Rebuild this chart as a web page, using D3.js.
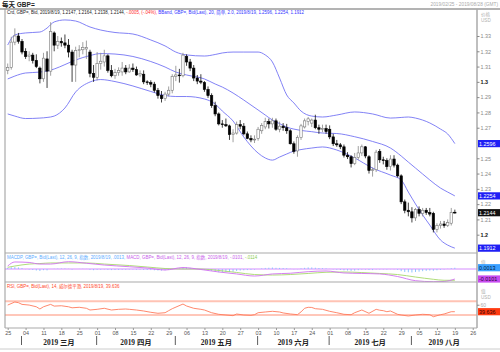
<!DOCTYPE html>
<html>
<head>
<meta charset="utf-8">
<script src="https://cdn.jsdelivr.net/npm/d3@7/dist/d3.min.js"></script>
<style>
  body { margin: 0; background: #fff; }
  svg { display: block; font-family: "Liberation Sans", Arial, "Noto Sans CJK SC", sans-serif; }
</style>
</head>
<body>
<script>

// chart size
const width = 500, height = 352;

// trading day range shown on the x axis
const firstDay = "2019-02-25", lastDay = "2019-08-27";
const monthNames = ["三月", "四月", "五月", "六月", "七月", "八月"];

// daily candles, one value per trading day from 2019-02-25 to 2019-08-19
const openP = [
  1.3075,1.3095,1.3260,1.3300,1.3265, 1.3200,1.3165,1.3175,1.3140,1.3090,
  1.3020,1.3150,1.3070,1.3320,1.3240, 1.3265,1.3255,1.3240,1.3195,1.3110,
  1.3205,1.3210,1.3215,1.3195,1.3055, 1.3030,1.3120,1.3130,1.3170,1.3075,
  1.3040,1.3060,1.3065,1.3090,1.3065, 1.3090,1.3080,1.3045,1.3050,1.3000,
  1.2995,1.2985,1.2945,1.2910,1.2890, 1.2920,1.2945,1.3035,1.3045,1.3040,
  1.3165,1.3130,1.3090,1.3025,1.3005, 1.2995,1.2950,1.2910,1.2845,1.2790,
  1.2725,1.2720,1.2712,1.2655,1.2665, 1.2720,1.2710,1.2660,1.2630,1.2620,
  1.2630,1.2680,1.2705,1.2740,1.2725, 1.2745,1.2690,1.2710,1.2700,1.2680,
  1.2595,1.2548,1.2636,1.2705,1.2740, 1.2730,1.2750,1.2700,1.2690,1.2695,
  1.2690,1.2640,1.2595,1.2588,1.2575, 1.2520,1.2510,1.2465,1.2505,1.2535,
  1.2575,1.2510,1.2420,1.2425,1.2545, 1.2490,1.2485,1.2445,1.2495,1.2455,
  1.2385,1.2215,1.2160,1.2150,1.2110, 1.2165,1.2140,1.2160,1.2145,1.2140,
  1.2035,1.2060,1.2070,1.2060,1.2075, 1.2147
];
const highP = [
  1.3120,1.3295,1.3350,1.3320,1.3280, 1.3220,1.3200,1.3190,1.3180,1.3100,
  1.3190,1.3200,1.3390,1.3330,1.3300, 1.3290,1.3310,1.3280,1.3210,1.3230,
  1.3240,1.3260,1.3270,1.3210,1.3110, 1.3195,1.3190,1.3210,1.3180,1.3110,
  1.3085,1.3095,1.3130,1.3110,1.3115, 1.3120,1.3100,1.3075,1.3075,1.3010,
  1.3010,1.3000,1.2960,1.2940,1.2935, 1.2970,1.3050,1.3105,1.3085,1.3190,
  1.3180,1.3150,1.3110,1.3045,1.3050, 1.3005,1.2970,1.2925,1.2870,1.2800,
  1.2750,1.2760,1.2720,1.2690,1.2740, 1.2750,1.2730,1.2675,1.2650,1.2650,
  1.2705,1.2730,1.2765,1.2760,1.2765, 1.2760,1.2740,1.2730,1.2725,1.2690,
  1.2610,1.2650,1.2725,1.2760,1.2770, 1.2760,1.2785,1.2720,1.2720,1.2720,
  1.2715,1.2660,1.2620,1.2600,1.2590, 1.2540,1.2520,1.2535,1.2580,1.2590,
  1.2580,1.2520,1.2440,1.2555,1.2560, 1.2510,1.2500,1.2520,1.2520,1.2465,
  1.2395,1.2230,1.2210,1.2180,1.2175, 1.2185,1.2175,1.2175,1.2175,1.2150,
  1.2075,1.2090,1.2090,1.2100,1.2175, 1.2164
];
const lowP = [
  1.3050,1.3080,1.3240,1.3250,1.3180, 1.3150,1.3135,1.3120,1.3090,1.2990,
  1.3000,1.2960,1.3040,1.3200,1.3215, 1.3230,1.3220,1.3160,1.3000,1.3000,
  1.3160,1.3180,1.3150,1.3030,1.3000, 1.3010,1.3080,1.3100,1.3060,1.3030,
  1.3020,1.3040,1.3040,1.3050,1.3060, 1.3065,1.3040,1.3030,1.2985,1.2980,
  1.2965,1.2930,1.2890,1.2865,1.2875, 1.2905,1.2925,1.3005,1.2995,1.3030,
  1.3105,1.3070,1.3005,1.2985,1.2985, 1.2935,1.2895,1.2830,1.2775,1.2715,
  1.2700,1.2705,1.2620,1.2605,1.2655, 1.2690,1.2650,1.2625,1.2605,1.2600,
  1.2615,1.2660,1.2690,1.2695,1.2700, 1.2680,1.2670,1.2680,1.2660,1.2590,
  1.2530,1.2510,1.2620,1.2695,1.2715, 1.2705,1.2690,1.2660,1.2670,1.2660,
  1.2625,1.2580,1.2575,1.2560,1.2505, 1.2495,1.2440,1.2455,1.2490,1.2515,
  1.2500,1.2400,1.2380,1.2410,1.2470, 1.2460,1.2425,1.2420,1.2440,1.2375,
  1.2200,1.2140,1.2120,1.2080,1.2090, 1.2120,1.2120,1.2130,1.2120,1.2015,
  1.2015,1.2040,1.2045,1.2050,1.2060, 1.2138
];
const closeP = [
  1.3095,1.3260,1.3300,1.3265,1.3195, 1.3165,1.3175,1.3140,1.3100,1.3020,
  1.3155,1.3070,1.3330,1.3240,1.3265, 1.3255,1.3240,1.3195,1.3110,1.3205,
  1.3210,1.3225,1.3225,1.3055,1.3030, 1.3120,1.3135,1.3170,1.3075,1.3040,
  1.3060,1.3075,1.3090,1.3065,1.3090, 1.3080,1.3045,1.3055,1.3000,1.2995,
  1.2985,1.2945,1.2910,1.2890,1.2920, 1.2945,1.3035,1.3045,1.3040,1.3175,
  1.3130,1.3090,1.3025,1.3005,1.2998, 1.2950,1.2910,1.2845,1.2790,1.2725,
  1.2720,1.2712,1.2655,1.2665,1.2720, 1.2710,1.2660,1.2630,1.2620,1.2625,
  1.2690,1.2715,1.2740,1.2725,1.2745, 1.2690,1.2710,1.2700,1.2680,1.2595,
  1.2545,1.2636,1.2712,1.2745,1.2758, 1.2750,1.2700,1.2690,1.2695,1.2675,
  1.2640,1.2595,1.2588,1.2575,1.2520, 1.2510,1.2465,1.2505,1.2535,1.2575,
  1.2515,1.2420,1.2425,1.2540,1.2490, 1.2485,1.2445,1.2495,1.2455,1.2385,
  1.2215,1.2160,1.2150,1.2110,1.2165, 1.2140,1.2160,1.2145,1.2135,1.2035,
  1.2060,1.2070,1.2060,1.2080,1.2145, 1.2144
];

// Bollinger bands (20, 2.0) at these dates
const bandDates = ["02-25","02-27","03-04","03-08","03-12","03-14","03-19","03-22","03-28","04-02",
  "04-08","04-15","04-22","04-26","05-01","05-06","05-13","05-16","05-20","05-23",
  "05-28","06-03","06-05","06-07","06-11","06-13","06-17","06-19","06-24","06-27",
  "07-03","07-10","07-17","07-24","07-29","07-31","08-02","08-06","08-08","08-13",
  "08-15","08-19"];
const bandUpper = [1.3241,1.3307,1.3320,1.3326,1.3352,1.3392,1.3405,1.3398,1.3359,1.3339,
  1.3323,1.3313,1.3274,1.3235,1.3195,1.3176,1.3169,1.3179,1.3189,1.3195,
  1.3195,1.3195,1.3176,1.3130,1.3025,1.2914,1.2862,1.2809,1.2776,1.2770,
  1.2783,1.2803,1.2790,1.2763,1.2767,1.2770,1.2763,1.2750,1.2731,1.2691,
  1.2659,1.2596];
const bandMiddle = [1.3019,1.3038,1.3058,1.3064,1.3071,1.3084,1.3113,1.3143,1.3172,1.3185,
  1.3182,1.3166,1.3133,1.3097,1.3064,1.3045,1.3019,1.2986,1.2966,1.2927,
  1.2881,1.2816,1.2783,1.2750,1.2727,1.2704,1.2691,1.2682,1.2674,1.2665,
  1.2662,1.2641,1.2610,1.2567,1.2515,1.2475,1.2436,1.2397,1.2358,1.2305,
  1.2279,1.2254];
const bandLower = [1.2790,1.2776,1.2760,1.2763,1.2767,1.2776,1.2829,1.2934,1.2999,1.3015,
  1.3002,1.2973,1.2937,1.2911,1.2904,1.2904,1.2888,1.2855,1.2809,1.2744,
  1.2639,1.2534,1.2502,1.2488,1.2508,1.2528,1.2547,1.2557,1.2567,1.2574,
  1.2554,1.2502,1.2436,1.2390,1.2358,1.2279,1.2201,1.2129,1.2063,1.1965,
  1.1932,1.1912];

// MACD (12, 26, 9): histogram per trading day, lines read at these dates
const macdHist = [
  0.0010,0.0018,0.0020,0.0016,0.0010, -0.0002,-0.0006,-0.0010,-0.0015,-0.0020,
  -0.0012,-0.0014,0.0000,0.0002,0.0004, 0.0005,0.0005,0.0002,-0.0006,0.0000,
  0.0001,0.0002,0.0001,-0.0008,-0.0012, -0.0008,-0.0007,-0.0004,-0.0008,-0.0011,
  -0.0010,-0.0009,-0.0007,-0.0007,-0.0005, -0.0004,-0.0006,-0.0006,-0.0009,-0.0010,
  -0.0011,-0.0013,-0.0015,-0.0016,-0.0013, -0.0010,-0.0002,0.0003,0.0005,0.0016,
  0.0016,0.0012,0.0005,0.0000,-0.0003, -0.0008,-0.0013,-0.0019,-0.0026,-0.0033,
  -0.0032,-0.0030,-0.0031,-0.0028,-0.0020, -0.0016,-0.0013,-0.0011,-0.0009,-0.0006,
  0.0000,0.0006,0.0011,0.0013,0.0015, 0.0012,0.0011,0.0010,0.0008,0.0002,
  -0.0003,-0.0002,0.0006,0.0012,0.0016, 0.0016,0.0013,0.0010,0.0008,0.0006,
  0.0001,-0.0004,-0.0007,-0.0010,-0.0014, -0.0016,-0.0019,-0.0017,-0.0012,-0.0006,
  -0.0006,-0.0010,-0.0011,-0.0004,-0.0004, -0.0004,-0.0005,-0.0002,-0.0003,-0.0008,
  -0.0022,-0.0030,-0.0033,-0.0035,-0.0030, -0.0027,-0.0022,-0.0019,-0.0016,-0.0018,
  -0.0013,-0.0008,-0.0005,0.0002,0.0008, 0.0013
];
const macdDates = ["02-25","02-27","03-05","03-08","03-13","03-20","03-27","04-03","04-12","04-19",
  "04-26","05-03","05-10","05-17","05-24","05-31","06-07","06-14","06-21","06-28",
  "07-05","07-12","07-19","07-26","08-02","08-09","08-14","08-19"];
const macdLine = [0.0030,0.0071,0.0066,0.0050,0.0050,0.0074,0.0058,0.0040,0.0023,0.0010,
  -0.0010,0.0015,-0.0005,-0.0030,-0.0050,-0.0071,-0.0050,-0.0043,-0.0027,-0.0020,
  -0.0040,-0.0045,-0.0050,-0.0076,-0.0118,-0.0128,-0.0126,-0.0101];
const macdSignal = [0.0017,0.0030,0.0050,0.0055,0.0061,0.0061,0.0061,0.0050,0.0035,0.0020,
  0.0005,0.0000,0.0000,-0.0015,-0.0035,-0.0056,-0.0061,-0.0056,-0.0045,-0.0033,
  -0.0030,-0.0036,-0.0045,-0.0056,-0.0081,-0.0104,-0.0114,-0.0114];

// RSI (14, Wilder) read at these dates
const rsiDates = ["02-25","02-27","02-28","03-01","03-05","03-07","03-08","03-11","03-13","03-14",
  "03-18","03-20","03-21","03-25","03-27","03-28","04-01","04-03","04-05","04-09",
  "04-11","04-12","04-16","04-18","04-22","04-24","04-26","04-29","04-30","05-03",
  "05-06","05-08","05-10","05-13","05-15","05-17","05-21","05-23","05-24","05-28",
  "05-30","05-31","06-03","06-05","06-07","06-11","06-12","06-14","06-18","06-19",
  "06-20","06-21","06-24","06-25","06-27","07-01","07-03","07-05","07-09","07-10",
  "07-12","07-16","07-18","07-19","07-22","07-23","07-24","07-26","07-29","07-31",
  "08-02","08-06","08-08","08-09","08-13","08-14","08-16","08-19"];
const rsiValues = [59,68,66,61,59,54,47.5,54,61,56,
  57,54,51,52.5,49.6,44.6,46.6,49.6,44.6,46.6,
  47.5,46.6,44.6,41.7,37.9,35,36.7,42.6,48.4,62,
  56.3,49.6,46.6,44.6,36.7,32,30,28,32.9,30,
  29,30.9,36.7,38.8,40.8,38.8,36,33,31,39,
  49.6,52.5,52,48.4,46.6,40.8,36.7,32,30.9,36.7,
  44.6,35,46.6,44,42.6,39.6,41.7,32,30,27.1,
  30,32,30.9,25,30.9,32.9,39.6,39.636];

// price axis ticks (1.26 sits under the upper band flag and is not shown)
const priceTicks = [1.20,1.21,1.22,1.23,1.24,1.25,1.27,1.28,1.29,1.30,1.31,1.32,1.33];
const rsiTicks = [60];

// ---------------------------------------------------------------------------

const parse = d3.utcParse("%Y-%m-%d"), fmt = d3.utcFormat("%Y-%m-%d");
const days = d3.utcDay.range(parse(firstDay), d3.utcDay.offset(parse(lastDay), 1))
  .filter(d => d.getUTCDay() > 0 && d.getUTCDay() < 6)
  .map(fmt);
const candleDays = days.slice(0, closeP.length);
const full = s => "2019-" + s;

// panels
const plotL = 5, plotR = 477;
const mainTop = 9, mainBot = 253, macdBot = 282, rsiBot = 328;

const x = d3.scalePoint().domain(days).range([7.7, 476.3]);
const yP = d3.scaleLinear().domain([1.20, 1.33]).range([234.7, 36]);
const yM = d3.scaleLinear().domain([-0.0101, 0]).range([279, 269]);
const yR = d3.scaleLinear().domain([30, 70]).range([315, 301.3]);

const svg = d3.select("body").append("svg")
  .attr("width", width).attr("height", height);

const defs = svg.append("defs");
[["clipMain", mainTop, mainBot], ["clipMacd", mainBot, macdBot], ["clipRsi", macdBot, rsiBot]]
  .forEach(([id, t, b]) => {
    defs.append("clipPath").attr("id", id)
      .append("rect").attr("x", plotL).attr("y", t).attr("width", plotR - plotL).attr("height", b - t);
  });

// title row
svg.append("text").attr("x", 2).attr("y", 6.5)
  .attr("font-size", 6.5).attr("font-weight", "bold").attr("fill", "#222")
  .text("每天 GBP=");
svg.append("text").attr("x", 498).attr("y", 6).attr("text-anchor", "end")
  .attr("font-size", 4.8).attr("fill", "#aaa")
  .text("2019/02/25 - 2019/08/28 (GMT)");

// ---------------- main panel ----------------
const main = svg.append("g").attr("clip-path", "url(#clipMain)");

const bandLine = vals => d3.line()
  .x((d, i) => x(full(bandDates[i])))
  .y(d => yP(d))
  .curve(d3.curveMonotoneX)(vals);

[bandUpper, bandMiddle, bandLower].forEach(vals => {
  main.append("path").attr("d", bandLine(vals))
    .attr("fill", "none").attr("stroke", "#7474f4").attr("stroke-width", 0.9);
});

const candles = main.append("g").selectAll("g")
  .data(candleDays.map((d, i) => ({ d, o: openP[i], h: highP[i], l: lowP[i], c: closeP[i] })))
  .join("g");

candles.append("line")
  .attr("x1", k => x(k.d)).attr("x2", k => x(k.d))
  .attr("y1", k => yP(k.h)).attr("y2", k => yP(k.l))
  .attr("stroke", k => k.c >= k.o ? "#888" : "#111").attr("stroke-width", 0.8);

candles.append("rect")
  .attr("x", k => x(k.d) - 1.2).attr("width", 2.4)
  .attr("y", k => yP(Math.max(k.o, k.c)))
  .attr("height", k => Math.max(0.8, Math.abs(yP(k.o) - yP(k.c))))
  .attr("fill", k => k.c >= k.o ? "#fff" : "#000")
  .attr("stroke", k => k.c >= k.o ? "#777" : "#000").attr("stroke-width", 0.6);

// legends: one text per panel, coloured parts as tspans
const legend = (y, parts) => {
  const t = svg.append("text").attr("x", 7).attr("y", y).attr("font-size", 4.45);
  parts.forEach(([tx, col]) => t.append("tspan").attr("fill", col).text(tx));
};
legend(14, [
  ["Crd, GBP=, Bid, 2019/8/19, 1.2147, 1.2164, 1.2138, 1.2144, ", "#222"],
  ["-.0005, (-.04%), ", "#ff2a2a"],
  ["BBand, GBP=, Bid(Last), 20, 简单, 2.0, 2019/8/19, 1.2596, 1.2254, 1.1912", "#3333ff"]
]);

// ---------------- MACD panel ----------------
const macdG = svg.append("g").attr("clip-path", "url(#clipMacd)");
macdG.append("line").attr("x1", plotL).attr("x2", plotR)
  .attr("y1", yM(0)).attr("y2", yM(0))
  .attr("stroke", "#d58cff").attr("stroke-width", 1);
macdG.append("g").selectAll("line")
  .data(candleDays.map((d, i) => ({ d, v: macdHist[i] })))
  .join("line")
  .attr("x1", k => x(k.d)).attr("x2", k => x(k.d))
  .attr("y1", yM(0)).attr("y2", k => yM(k.v))
  .attr("stroke", "#8ec4ff").attr("stroke-width", 1);

const macdPath = vals => d3.line()
  .x((d, i) => x(full(macdDates[i])))
  .y(d => yM(d))
  .curve(d3.curveMonotoneX)(vals);
macdG.append("path").attr("d", macdPath(macdSignal))
  .attr("fill", "none").attr("stroke", "#a6d86a").attr("stroke-width", 0.9);
macdG.append("path").attr("d", macdPath(macdLine))
  .attr("fill", "none").attr("stroke", "#d070f0").attr("stroke-width", 0.9);

legend(259, [
  ["MACDP, GBP=, Bid(Last), 12, 26, 9, 指数, 2019/8/19, .0013, ", "#5aacff"],
  ["MACD, GBP=, Bid(Last), 12, 26, 9, 指数, 2019/8/19, -.0101, ", "#c860ea"],
  ["-.0114", "#8ccc50"]
]);

// ---------------- RSI panel ----------------
const rsiG = svg.append("g").attr("clip-path", "url(#clipRsi)");
rsiG.append("line").attr("x1", plotL).attr("x2", plotR)
  .attr("y1", yR(70)).attr("y2", yR(70))
  .attr("stroke", "#ffc3b4").attr("stroke-width", 2);
rsiG.append("line").attr("x1", plotL).attr("x2", plotR)
  .attr("y1", yR(30)).attr("y2", yR(30))
  .attr("stroke", "#ff8f74").attr("stroke-width", 1);
rsiG.append("path")
  .attr("d", d3.line().x((d, i) => x(full(rsiDates[i]))).y(d => yR(d))(rsiValues))
  .attr("fill", "none").attr("stroke", "#ff7a5c").attr("stroke-width", 0.9);

legend(288, [
  ["RSI, GBP=, Bid(Last), 14, 威尔德平滑, 2019/8/19, 39.636", "#ff4a2a"]
]);

// ---------------- frames ----------------
const frame = svg.append("g").attr("fill", "none");
frame.append("line").attr("x1", 0).attr("x2", width).attr("y1", 9).attr("y2", 9)
  .attr("stroke", "#9a9a9a").attr("stroke-width", 1.5);
frame.append("line").attr("x1", plotL).attr("x2", plotL).attr("y1", 9).attr("y2", rsiBot)
  .attr("stroke", "#999").attr("stroke-width", 1);
frame.append("line").attr("x1", plotR).attr("x2", plotR).attr("y1", 9).attr("y2", rsiBot)
  .attr("stroke", "#aaa").attr("stroke-width", 1.5);
[mainBot, macdBot, rsiBot].forEach(y => {
  frame.append("line").attr("x1", plotL).attr("x2", plotR).attr("y1", y).attr("y2", y)
    .attr("stroke", "#aaa").attr("stroke-width", 1.2);
});
frame.append("line").attr("x1", 0).attr("x2", width).attr("y1", 349).attr("y2", 349)
  .attr("stroke", "#ccc").attr("stroke-width", 1);

// ---------------- right axes ----------------
const priceAxis = svg.append("g").attr("transform", `translate(${plotR},0)`)
  .call(d3.axisRight(yP).tickValues(priceTicks).tickSize(2.5).tickPadding(1)
    .tickFormat(d => d3.format(".2~f")(d)));
priceAxis.select(".domain").remove();
priceAxis.selectAll("line").attr("stroke", "#888");
priceAxis.selectAll("text")
  .attr("font-size", 5.4).attr("font-family", "Liberation Sans, Arial, sans-serif")
  .attr("fill", d => (d === 1.2 || d === 1.3) ? "#111" : "#888")
  .attr("font-weight", d => (d === 1.2 || d === 1.3) ? "bold" : "normal");

const sideText = (y, t) => svg.append("text").attr("x", 481).attr("y", y)
  .attr("font-size", 4.6).attr("fill", "#b0b0b0").text(t);
sideText(15.5, "价格");
sideText(21.5, "USD");
sideText(263.5, "值");
sideText(292.5, "值");
sideText(298.5, "USD");

const rsiAxis = svg.append("g").attr("transform", `translate(${plotR},0)`)
  .call(d3.axisRight(yR).tickValues(rsiTicks).tickSize(2.5).tickPadding(1));
rsiAxis.select(".domain").remove();
rsiAxis.selectAll("line").attr("stroke", "#888");
rsiAxis.selectAll("text").attr("font-size", 5).attr("fill", "#aaa")
  .attr("font-family", "Liberation Sans, Arial, sans-serif");

// value flags on the right
const flag = (y, t, bg, fg) => {
  svg.append("rect").attr("x", 478).attr("y", y - 3.6).attr("width", 22).attr("height", 7.2).attr("fill", bg);
  svg.append("text").attr("x", 479).attr("y", y + 2).attr("font-size", 5.4).attr("fill", fg).text(t);
};
flag(yP(bandUpper[bandUpper.length - 1]), "1.2596", "#1f1ff5", "#fff");
flag(yP(bandMiddle[bandMiddle.length - 1]), "1.2254", "#1f1ff5", "#fff");
flag(yP(bandLower[bandLower.length - 1]), "1.1912", "#1f1ff5", "#fff");
flag(yP(closeP[closeP.length - 1]), "1.2144", "#111", "#fff");
flag(yM(macdHist[macdHist.length - 1]), "0.0013", "#3aa0ff", "#001a40");
flag(yM(macdLine[macdLine.length - 1]), "-0.0101", "#c84cf0", "#2a0040");
flag(yR(rsiValues[rsiValues.length - 1]), "39.636", "#ff3a10", "#300");

// ---------------- bottom axis ----------------
const mondays = days.filter(d => parse(d).getUTCDay() === 1);
const xAxis = svg.append("g").attr("transform", `translate(0,${rsiBot})`)
  .call(d3.axisBottom(x).tickValues(mondays).tickSize(2).tickPadding(1)
    .tickFormat(d => d.slice(8)));
xAxis.select(".domain").remove();
xAxis.selectAll("line").attr("stroke", "#999");
xAxis.selectAll("text").attr("font-size", 5.4).attr("fill", "#555")
  .attr("font-family", "Liberation Sans, Arial, sans-serif");

// month separators and labels
const monthStarts = d3.range(3, 9).map(m => days.find(d => +d.slice(5, 7) === m));
monthStarts.forEach((d, i) => {
  const x0 = x(d) - 0.5;
  const x1 = i < monthStarts.length - 1 ? x(monthStarts[i + 1]) - 0.5 : plotR;
  svg.append("line").attr("x1", x0).attr("x2", x0).attr("y1", 336).attr("y2", 345)
    .attr("stroke", "#333").attr("stroke-width", 0.8);
  svg.append("text").attr("x", (x0 + x1) / 2).attr("y", 344.5).attr("text-anchor", "middle")
    .attr("font-size", 7.4).attr("font-weight", "bold").attr("fill", "#222")
    .attr("font-family", "Liberation Serif, 'Noto Sans CJK SC', serif")
    .text("2019 " + monthNames[i]);
});

</script>
</body>
</html>
